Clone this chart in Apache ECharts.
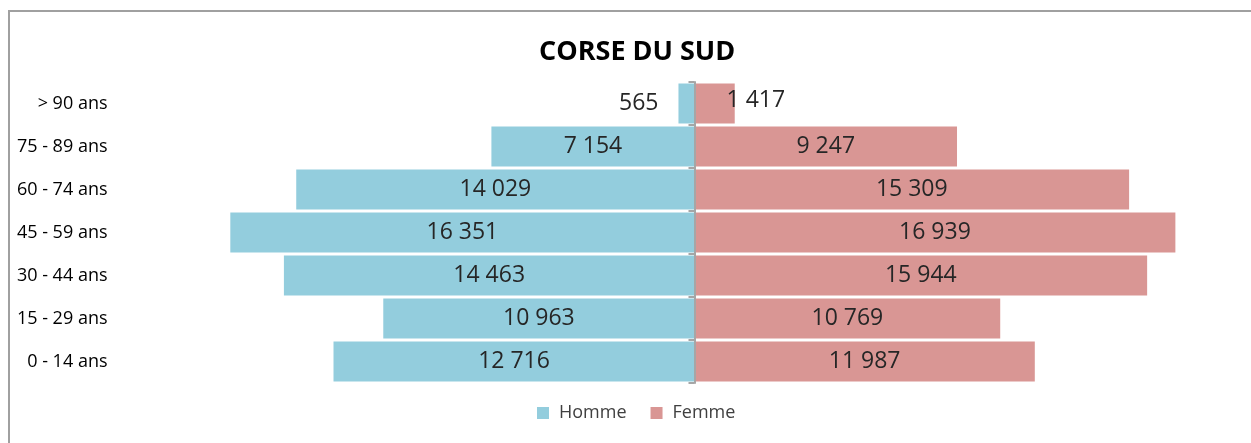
<!DOCTYPE html>
<html>
<head>
<meta charset="utf-8">
<script src="https://cdn.jsdelivr.net/npm/echarts@6/dist/echarts.min.js"></script>
<style>
  html, body { margin: 0; padding: 0; background: #fff; overflow: hidden; }
  #frame { position: absolute; left: 8px; top: 10px; width: 1300px; height: 500px; border-left: 2px solid #a0a0a0; border-top: 2px solid #a0a0a0; }
  #chart { position: absolute; left: 0; top: 0; width: 1251px; height: 443px; }
</style>
</head>
<body>
<div id="frame"></div>
<div id="chart"></div>
<script>
// tranches d'age, du bas vers le haut
var ageGroups = ['0 - 14 ans', '15 - 29 ans', '30 - 44 ans', '45 - 59 ans', '60 - 74 ans', '75 - 89 ans', '> 90 ans'];
var homme = [12716, 10963, 14463, 16351, 14029, 7154, 565];
var femme = [11987, 10769, 15944, 16939, 15309, 9247, 1417];

var fontFam = '"Open Sans", "Noto Sans", sans-serif';

function fmt(v) {
  return String(Math.abs(v)).replace(/\B(?=(\d{3})+(?!\d))/g, ' ');
}

var hommeData = homme.map(function (v, i) {
  var d = { value: -v };
  if (i === homme.length - 1) {
    d.label = { position: 'left', distance: 20 };
  }
  return d;
});
var femmeData = femme.map(function (v, i) {
  var d = { value: v };
  if (i === femme.length - 1) {
    d.label = { position: 'insideLeft', distance: 32, offset: [0, -3] };
  }
  return d;
});

var myChart = echarts.init(document.getElementById('chart'));

var option = {
  animation: false,
  title: {
    text: 'CORSE DU SUD',
    left: 534,
    top: 34,
    textStyle: { fontFamily: fontFam, fontSize: 27, fontWeight: 'bold', color: '#000' }
  },
  legend: {
    bottom: 16,
    left: 532,
    itemWidth: 12,
    itemHeight: 12,
    itemGap: 24,
    icon: 'rect',
    textStyle: { fontFamily: fontFam, fontSize: 18, color: '#404040', padding: [0, 0, 0, 5] },
    data: ['Homme', 'Femme']
  },
  grid: { left: 183.5, right: 45.5, top: 82, bottom: 60 },
  xAxis: {
    type: 'value',
    min: -18000,
    max: 18000,
    show: false
  },
  yAxis: [
    {
      type: 'category',
      data: ageGroups,
      position: 'left',
      axisLine: { show: false, onZero: false },
      axisTick: { show: false },
      axisLabel: { margin: 76, fontFamily: fontFam, fontSize: 18, color: '#000' }
    },
    {
      type: 'category',
      data: ageGroups,
      position: 'left',
      z: 5,
      axisLine: { show: true, onZero: true, lineStyle: { color: '#a6a6a6', width: 2 } },
      axisTick: { show: true, length: 6, lineStyle: { color: '#a6a6a6', width: 2 } },
      axisLabel: { show: false }
    }
  ],
  series: [
    {
      name: 'Homme',
      type: 'bar',
      barGap: '-100%',
      barCategoryGap: '7%',
      itemStyle: { color: '#93cddd' },
      label: {
        show: true,
        position: 'inside',
        fontFamily: fontFam,
        fontSize: 23,
        color: '#262626',
        formatter: function (p) { return fmt(p.value); }
      },
      data: hommeData
    },
    {
      name: 'Femme',
      type: 'bar',
      barGap: '-100%',
      barCategoryGap: '7%',
      itemStyle: { color: '#d99694' },
      label: {
        show: true,
        position: 'inside',
        fontFamily: fontFam,
        fontSize: 23,
        color: '#262626',
        formatter: function (p) { return fmt(p.value); }
      },
      data: femmeData
    }
  ]
};

myChart.setOption(option);
</script>
</body>
</html>
